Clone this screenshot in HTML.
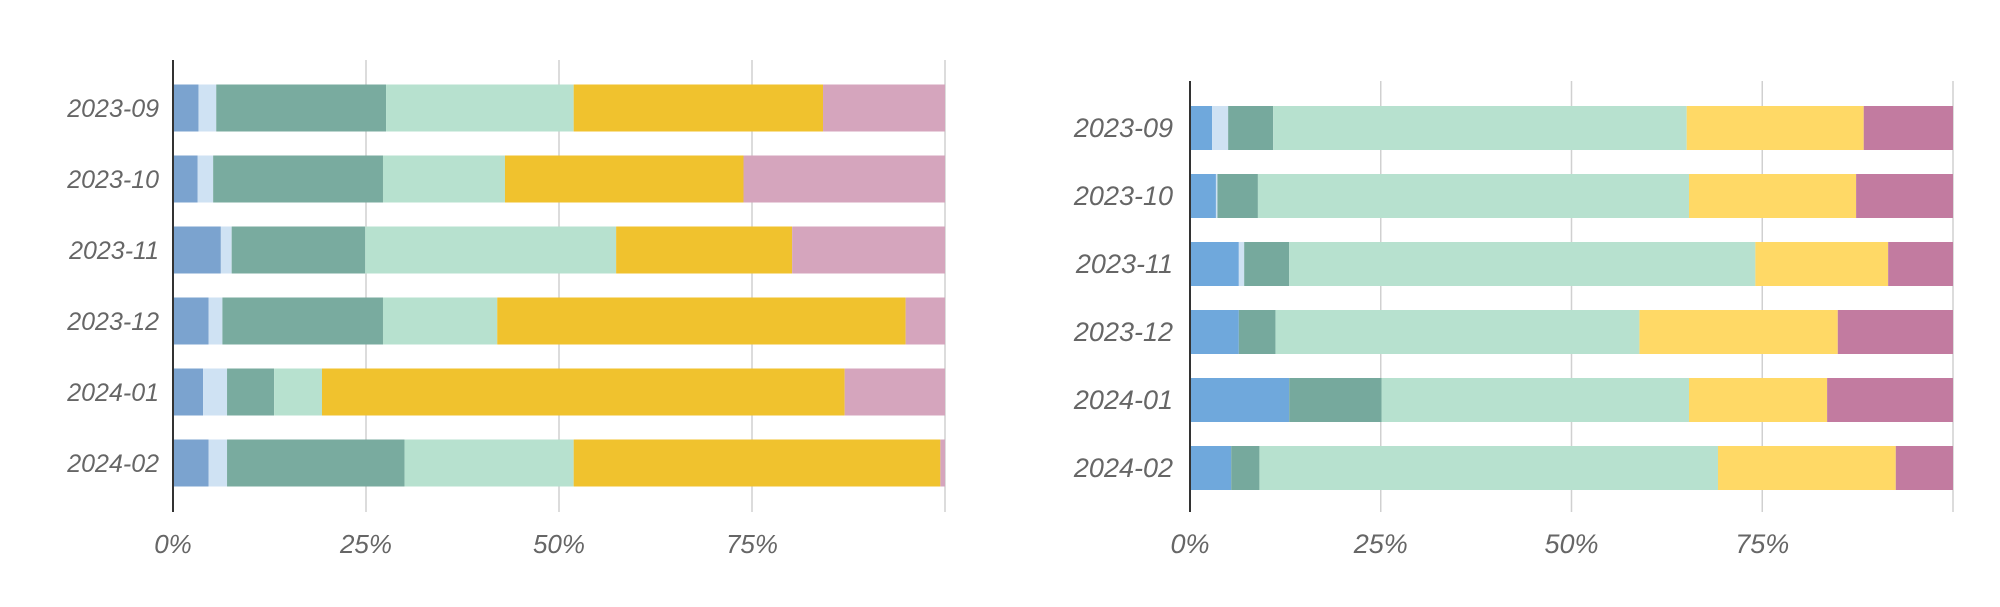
<!DOCTYPE html>
<html><head><meta charset="utf-8"><style>
html,body{margin:0;padding:0;background:#fff;}
svg{display:block;}
text{font-family:"Liberation Sans",sans-serif;font-style:italic;fill:#666;}
</style></head><body>
<svg id="c" width="2000" height="607" viewBox="0 0 2000 607"></svg>
<script>
const categories = ["2023-09","2023-10","2023-11","2023-12","2024-01","2024-02"];
const tickLabels = ["0%","25%","50%","75%"];
const tickValues = [0,25,50,75,100];
const leftS1 = [3.3,3.2,6.2,4.6,3.9,4.6];
const leftS2 = [2.3,2.0,1.4,1.8,3.1,2.4];
const leftS3 = [22.0,22.0,17.3,20.8,6.1,23.0];
const leftS4 = [24.3,15.8,32.5,14.8,6.2,21.9];
const leftS5 = [32.3,30.9,22.8,52.9,67.7,47.5];
const leftS6 = [15.8,26.1,19.8,5.1,13.0,0.6];
const rightS1 = [2.9,3.4,6.4,6.4,13.0,5.4];
const rightS2 = [2.1,0.2,0.7,0,0,0];
const rightS3 = [5.9,5.3,5.9,4.8,12.1,3.7];
const rightS4 = [54.2,56.5,61.1,47.7,40.3,60.1];
const rightS5 = [23.2,21.9,17.4,26.0,18.1,23.3];
const rightS6 = [11.7,12.7,8.5,15.1,16.5,7.5];

const NS="http://www.w3.org/2000/svg";
const svg=document.getElementById('c');
function mk(tag,attrs,parent){const e=document.createElementNS(NS,tag);for(const k in attrs)e.setAttribute(k,attrs[k]);(parent||svg).appendChild(e);return e;}

function drawChart(cfg){
  const g=mk('g',{});
  
  
  const x=v=>cfg.x0+(cfg.x1-cfg.x0)*v/100;
  const y=i=>cfg.yc0+cfg.pitch*i;
  tickValues.forEach((t,i)=>{
    const l=mk('line',{x1:x(t),x2:x(t),y1:cfg.top,y2:cfg.bottom,stroke:'#d0d0d0','stroke-width':1.5},g);
    
    
    if(i<tickLabels.length){
      const tx=mk('text',{x:x(t),y:553,'text-anchor':'middle','font-size':cfg.tfs},g);
      tx.textContent=tickLabels[i];
      
      
    }
  });
  const series=cfg.series;
  categories.forEach((c,i)=>{
    let acc=0;
    series.forEach((s,k)=>{
      const v=s[i];
      if(v<=0){return;}
      const r=mk('rect',{x:x(acc),y:y(i)-cfg.bh/2,width:Math.max(0,x(acc+v)-x(acc)),height:cfg.bh,fill:cfg.colors[k]},g);
      
      
      acc+=v;
    });
    const t=mk('text',{x:cfg.lx,y:y(i)+9,'text-anchor':'end','font-size':cfg.fs},g);
    t.textContent=c;
    
    
  });
  const ax=mk('line',{x1:cfg.x0,x2:cfg.x0,y1:cfg.top,y2:cfg.bottom,stroke:'#333','stroke-width':2},g);
  
  
}
drawChart({name:'left-chart',x0:173,x1:945,top:60,bottom:512,yc0:108,pitch:71,bh:47,lx:159,fs:25,tfs:26,
  series:[leftS1,leftS2,leftS3,leftS4,leftS5,leftS6],
  colors:['#7ba3cf','#cfe2f3','#79ab9f','#b7e1cf','#f0c22e','#d5a5bd']});
drawChart({name:'right-chart',x0:1190,x1:1953,top:81,bottom:512,yc0:128,pitch:68,bh:44,lx:1173,fs:27,tfs:27,
  series:[rightS1,rightS2,rightS3,rightS4,rightS5,rightS6],
  colors:['#6fa8dc','#cfe2f3','#76a99d','#b7e1cf','#ffd966','#c27ba0']});
</script>
</body></html>
